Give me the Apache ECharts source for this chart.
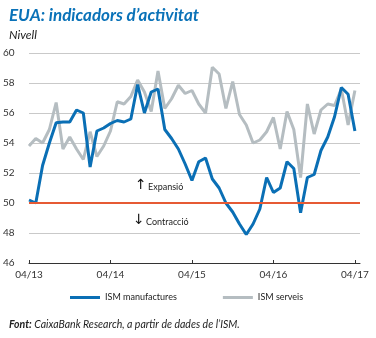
<!DOCTYPE html>
<html><head><meta charset="utf-8">
<script src="https://cdn.jsdelivr.net/npm/echarts@6/dist/echarts.min.js"></script>
<style>html,body{margin:0;padding:0;background:#fff}#c{width:376px;height:338px}</style>
</head><body><div id="c"></div>
<script>
const categories = ["04/13","05/13","06/13","07/13","08/13","09/13","10/13","11/13","12/13","01/14","02/14","03/14",
"04/14","05/14","06/14","07/14","08/14","09/14","10/14","11/14","12/14","01/15","02/15","03/15",
"04/15","05/15","06/15","07/15","08/15","09/15","10/15","11/15","12/15","01/16","02/16","03/16",
"04/16","05/16","06/16","07/16","08/16","09/16","10/16","11/16","12/16","01/17","02/17","03/17","04/17"];
const ismManufactures = [50.2,50.0,52.5,54.0,55.35,55.4,55.4,56.2,56.0,52.4,54.8,55.0,
55.3,55.5,55.4,55.6,57.9,56.0,57.4,57.6,54.9,54.3,53.6,52.6,
51.5,52.75,53.0,51.6,51.0,50.0,49.4,48.6,47.9,48.6,49.6,51.7,
50.7,51.0,52.75,52.3,49.35,51.7,51.9,53.5,54.4,55.75,57.7,57.25,54.8];
const ismServeis = [53.8,54.3,54.0,54.9,56.7,53.6,54.4,53.6,52.9,54.75,53.1,53.8,
54.8,56.75,56.6,57.1,58.2,57.4,56.1,58.8,56.3,56.95,57.85,57.3,
57.5,56.6,56.0,59.05,58.6,56.3,58.1,55.9,55.2,54.0,54.2,54.75,
55.7,53.6,56.1,54.9,51.7,56.6,54.6,56.2,56.6,56.5,57.6,55.2,57.5];
const tickLabels = ["04/13","04/14","04/15","04/16","04/17"];
const yTicks = [46,48,50,52,54,56,58,60];
const threshold = 50;

const FONT = 'Lato';
const tickIdx = tickLabels.map(t=>categories.indexOf(t));
const chart = echarts.init(document.getElementById('c'), null, {renderer:'canvas'});
const toPairs = arr => arr.map((v,i)=>[i,v]);
chart.setOption({
  animation:false,
  textStyle:{fontFamily:FONT},
  title:[{
    text:'EUA: indicadors d\u2019activitat', left:4, top:2,
    textStyle:{color:'#0a72b8', fontSize:17, fontWeight:'bold', fontStyle:'italic', fontFamily:FONT}
  },{
    text:'Nivell', left:4, top:24,
    textStyle:{color:'#222', fontSize:12, fontWeight:'normal', fontStyle:'italic', fontFamily:FONT}
  },{
    text:'{b|Font:} CaixaBank Research, a partir de dades de l\u2019ISM.', left:4, top:314,
    textStyle:{color:'#222', fontSize:10.5, fontStyle:'italic', fontWeight:'normal', fontFamily:FONT,
      rich:{b:{fontWeight:'bold', fontStyle:'italic', fontSize:10.5, fontFamily:FONT, color:'#222'}}}
  }],
  grid:{left:24, right:16, top:53, bottom:75, containLabel:false},
  xAxis:{
    type:'value', min:0, max:48.75,
    axisLine:{show:true, lineStyle:{color:'#333', width:1}},
    axisTick:{show:true, inside:true, length:3, lineStyle:{color:'#333'}, customValues:tickIdx},
    axisLabel:{color:'#333', fontSize:10, margin:7, customValues:tickIdx,
      formatter:v=>{const k=tickIdx.indexOf(Math.round(v)); return k>=0?tickLabels[k]:'';}},
    splitLine:{show:false}
  },
  yAxis:{
    type:'value', min:yTicks[0], max:yTicks[yTicks.length-1], interval:2,
    axisLine:{show:false}, axisTick:{show:false},
    axisLabel:{color:'#333', fontSize:10, margin:8, align:'left', padding:[0,0,0,-18]},
    splitLine:{show:true, lineStyle:{color:'#c9c9c9', width:1}}
  },
  legend:{
    data:['ISM manufactures','ISM serveis'], left:70, top:293, itemGap:46, padding:0,
    itemWidth:30, itemHeight:3, icon:'rect',
    textStyle:{color:'#222', fontSize:9, fontFamily:FONT}
  },
  series:[{
    name:'ISM serveis', type:'line', data:toPairs(ismServeis), symbol:'none',
    lineStyle:{color:'#b5bdc1', width:3}, itemStyle:{color:'#b5bdc1'},
    markLine:{silent:true, symbol:'none', label:{show:false},
      lineStyle:{color:'#e65a34', width:2, type:'solid'}, data:[{yAxis:threshold}]}
  },{
    name:'ISM manufactures', type:'line', data:toPairs(ismManufactures), symbol:'none',
    lineStyle:{color:'#0a6fb5', width:3}, itemStyle:{color:'#0a6fb5'}
  }],
  graphic:[
    {type:'text', left:135, top:178, style:{text:'\u2191', fontSize:14, fontFamily:'DejaVu Sans', fill:'#111'}},
    {type:'text', left:148, top:183, style:{text:'Expansi\u00f3', fontSize:9, fontFamily:FONT, fill:'#222'}},
    {type:'text', left:133, top:213, style:{text:'\u2193', fontSize:14, fontFamily:'DejaVu Sans', fill:'#111'}},
    {type:'text', left:146, top:218, style:{text:'Contracci\u00f3', fontSize:9, fontFamily:FONT, fill:'#222'}}
  ]
});
</script></body></html>
